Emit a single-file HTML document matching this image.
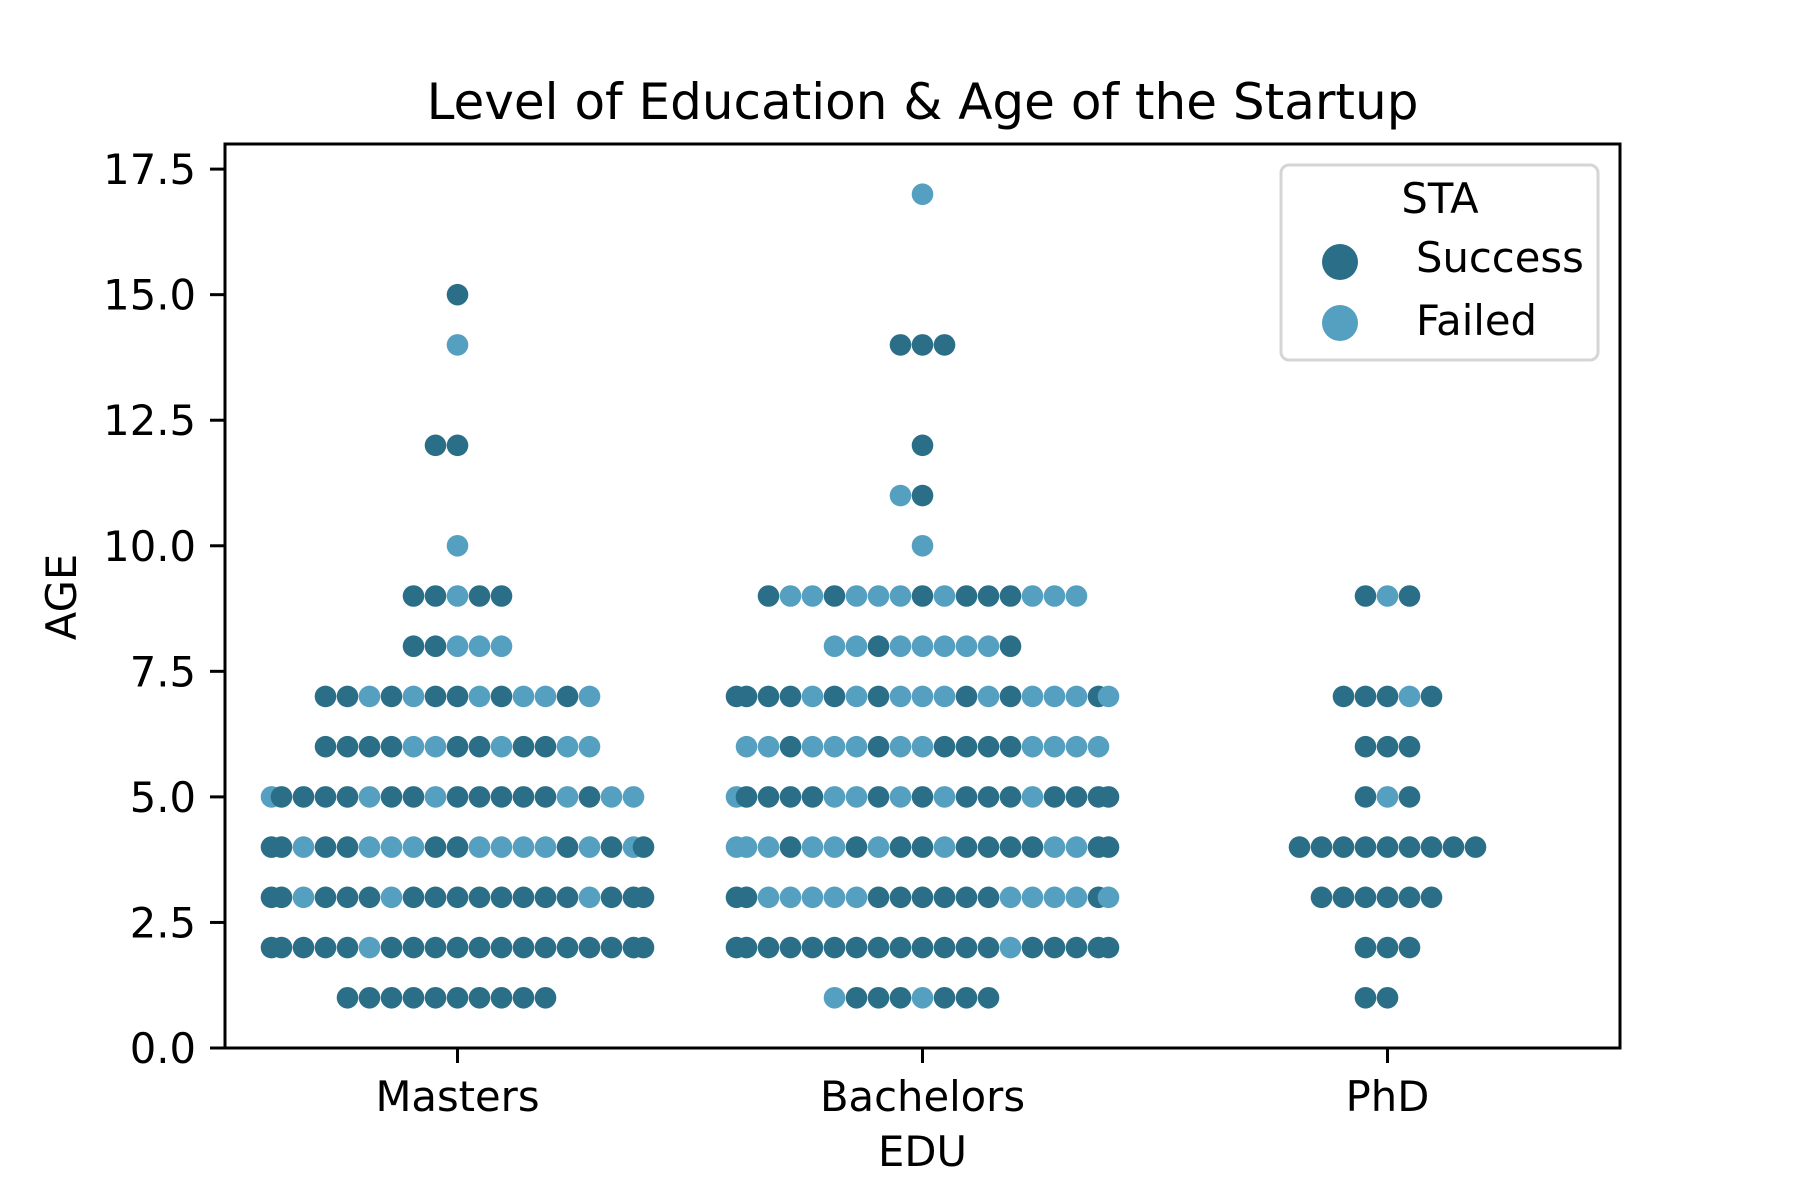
<!DOCTYPE html>
<html><head><meta charset="utf-8"><style>
html,body{margin:0;padding:0;background:#fff;}
svg{display:block;font-family:"DejaVu Sans","Liberation Sans",sans-serif;}
</style></head><body>
<svg id="chart" width="1800" height="1200" viewBox="0 0 1800 1200" xmlns="http://www.w3.org/2000/svg">
<rect width="1800" height="1200" fill="#fff"/>
<text x="922.5" y="119" font-size="50" text-anchor="middle">Level of Education &amp; Age of the Startup</text>
<g id="marks"></g>
<rect x="225" y="144" width="1395" height="904" fill="none" stroke="#000" stroke-width="3"/>
<g id="yticks"></g>
<g id="xticks"></g>
<text x="922.5" y="1166" font-size="41.7" text-anchor="middle">EDU</text>
<text transform="translate(76,597) rotate(-90)" font-size="41.7" text-anchor="middle">AGE</text>
<g>
<rect x="1281" y="165" width="317" height="195" rx="8" fill="#fff" fill-opacity="0.8" stroke="#d5d5d5" stroke-width="3"/>
<text x="1440" y="213" font-size="41.7" text-anchor="middle">STA</text>
<circle cx="1340" cy="262" r="18" fill="#2a6f87"/>
<text x="1416" y="272" font-size="41.7">Success</text>
<circle cx="1340" cy="323" r="18" fill="#55a0c0"/>
<text x="1416" y="335" font-size="41.7">Failed</text>
</g>
</svg>
<script>
const categories = ["Masters","Bachelors","PhD"];
const yTicks = [0,2.5,5,7.5,10,12.5,15,17.5];
const yTickLabels = ["0.0","2.5","5.0","7.5","10.0","12.5","15.0","17.5"];
// rows: [age, sequence left-to-right; S = Success, F = Failed]
const mastersRows = [
 [15,"S"],[14,"F"],[12,"SS"],[10,"F"],[9,"SSFSS"],[8,"SSFFF"],
 [7,"SSFSFSSFSFFSF"],[6,"SSSSFFSSFSSFF"],
 [5,"FSSSSFSSFSSSSSFSFF"],[4,"SSFSSFFFSSFFFFSFSFS"],
 [3,"SSFSSSFSSSSSSSSFSSS"],[2,"SSSSSFSSSSSSSSSSSSS"],[1,"SSSSSSSSSS"]
];
const bachelorsRows = [
 [17,"F"],[14,"SSS"],[12,"S"],[11,"FS"],[10,"F"],
 [9,"SFFSFFFSFSSSFFF"],[8,"FFSFFFFFS"],
 [7,"SSSSFSFSFFFSFSFFFSF"],[6,"FFSFFFSFFSSSSFFFF"],
 [5,"FSSSSFFSFSFSSSFSSSS"],[4,"FFFSFFSFSSFSSSSFFSS"],
 [3,"SSFFFFFSSSSSSFFFFSF"],[2,"SSSSSSSSSSSSSFSSSSS"],[1,"FSSSFSSS"]
];
const phdRows = [
 [9,"SFS"],[7,"SSSFS"],[6,"SSS"],[5,"SFS"],[4,"SSSSSSSSS"],[3,"SSSSSS"],[2,"SSS"],[1,"SS"]
];
const seriesRows = [mastersRows, bachelorsRows, phdRows];
const statusColors = {S:"#2a6f87", F:"#55a0c0"};
const NS="http://www.w3.org/2000/svg";
const L=225,R=1620,T=144,B=1048,YMAX=18;
const xScale = i => L + (i+0.5)*(R-L)/categories.length;
const yScale = v => B - v*(B-T)/YMAX;
const step=22, halfW=0.4*(R-L)/categories.length, rad=10.8;
const marks=document.getElementById('marks');
seriesRows.forEach((rows,ci)=>{
  const cx=xScale(ci);
  rows.forEach(([age,seq])=>{
    const n=seq.length, start=-Math.floor(n/2);
    for(let k=0;k<n;k++){
      let off=(start+k)*step;
      if(off<-halfW) off=-halfW; if(off>halfW) off=halfW;
      const c=document.createElementNS(NS,'circle');
      c.setAttribute('cx',cx+off); c.setAttribute('cy',yScale(age));
      c.setAttribute('r',rad); c.setAttribute('fill',statusColors[seq[k]]);
      
      
      marks.appendChild(c);
    }
  });
});
const yg=document.getElementById('yticks');
yTicks.forEach((v,i)=>{
  const y=yScale(v);
  const l=document.createElementNS(NS,'line');
  l.setAttribute('x1',210);l.setAttribute('x2',225);l.setAttribute('y1',y);l.setAttribute('y2',y);
  l.setAttribute('stroke','#000');l.setAttribute('stroke-width','3');
  
  
  yg.appendChild(l);
  const t=document.createElementNS(NS,'text');
  t.setAttribute('x',196);t.setAttribute('y',y+15);t.setAttribute('font-size','41.7');t.setAttribute('text-anchor','end');
  t.textContent=yTickLabels[i];
  
  
  yg.appendChild(t);
});
const xg=document.getElementById('xticks');
categories.forEach((c,i)=>{
  const x=xScale(i);
  const l=document.createElementNS(NS,'line');
  l.setAttribute('x1',x);l.setAttribute('x2',x);l.setAttribute('y1',B);l.setAttribute('y2',B+15);
  l.setAttribute('stroke','#000');l.setAttribute('stroke-width','3');
  
  
  xg.appendChild(l);
  const t=document.createElementNS(NS,'text');
  t.setAttribute('x',x);t.setAttribute('y',1111);t.setAttribute('font-size','41.7');t.setAttribute('text-anchor','middle');
  t.textContent=c;
  
  
  xg.appendChild(t);
});
</script>
</body></html>
